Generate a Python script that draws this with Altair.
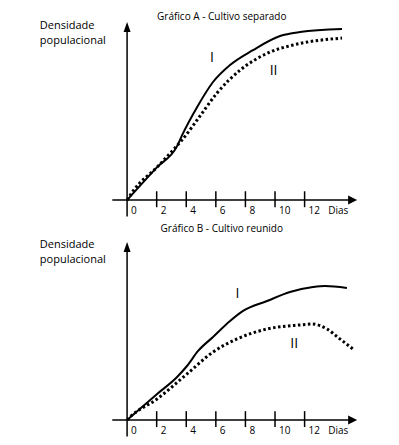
import altair as alt
import pandas as pd

# ---- data (days, relative population density) ----
a1_day = [0, 2.03, 3.38, 3.72, 4.73, 5.81, 6.96, 8.51, 10.34, 11.69, 14.53]
a1_den = [0, 18.6, 30.5, 36.7, 52.5, 66.7, 76.3, 84.7, 92.7, 94.9, 96.6]
a2_day = [0, 0.41, 2.03, 3.38, 3.7, 4.93, 6.08, 7.64, 9.66, 11.22, 14.53]
a2_den = [0, 5.2, 18.6, 30.8, 33.8, 47.5, 60.5, 73.4, 83.6, 87.6, 91.5]
b1_day = [0, 2.03, 3.38, 4.05, 4.80, 5.81, 6.96, 7.84, 9.46, 11.01, 12.57, 13.38, 14.86]
b1_den = [0, 14.7, 24.3, 30.5, 39.0, 46.9, 55.9, 61.6, 67.2, 72.3, 75.1, 75.7, 74.6]
b2_day = [0, 0.2, 2.03, 4.05, 5.81, 7.43, 9.46, 11.69, 12.5, 13.51, 14.39, 15.27]
b2_den = [0, 1.7, 11.9, 26.0, 38.4, 45.8, 51.4, 53.7, 54.2, 51.4, 45.8, 40.1]

tick_days = [2, 4, 6, 8, 10, 12]
label_days = [0, 2, 4, 6, 8, 10, 12]
label_text = ["0", "2", "4", "6", "8", "10", "12"]

titles = ["Gráfico A - Cultivo separado", "Gráfico B - Cultivo reunido"]
ylabel = "Densidade\npopulacional"
unit_label = "Dias"

FONT = "Open Sans"
XDOM = [-8.05, 17.3]
W = 375


def panel(d1, v1, d2, v2, lab_pos, title, title_y, ydom, height, ylab_y):
    xs = alt.Scale(domain=XDOM, nice=False, zero=False)
    ys = alt.Scale(domain=ydom, nice=False, zero=False)
    X = lambda f: alt.X(f, type="quantitative", scale=xs, axis=None)
    Y = lambda f: alt.Y(f, type="quantitative", scale=ys, axis=None)

    curves = pd.DataFrame(
        {"day": d1 + d2, "den": v1 + v2,
         "serie": ["I"] * len(d1) + ["II"] * len(d2),
         "o": list(range(len(d1))) + list(range(len(d2)))}
    )
    solid = alt.Chart(curves[curves.serie == "I"]).mark_line(
        color="black", strokeWidth=2, interpolate="monotone"
    ).encode(x=X("day"), y=Y("den"), order="o:Q")
    dotted = alt.Chart(curves[curves.serie == "II"]).mark_line(
        color="black", strokeWidth=3, strokeDash=[2.5, 2.5], strokeCap="butt",
        interpolate="monotone"
    ).encode(x=X("day"), y=Y("den"), order="o:Q")

    xaxis = alt.Chart(pd.DataFrame({"x": [-1.0], "x2": [15.3], "y": [0.0]})).mark_rule(
        color="black", strokeWidth=1.5
    ).encode(x=X("x"), x2="x2", y=Y("y"))
    yaxis = alt.Chart(pd.DataFrame({"x": [0.0], "y": [-9.3], "y2": [99.0]})).mark_rule(
        color="black", strokeWidth=1.5
    ).encode(x=X("x"), y=Y("y"), y2="y2")
    arr = pd.DataFrame({"x": [15.55, 0.0], "y": [0.0, 100.6],
                        "s": ["M0,0 L-1.8,-0.9 L-1.8,0.9 Z", "M0,0 L0.7,2 L-0.7,2 Z"]})
    arrows = alt.Chart(arr).mark_point(
        filled=True, color="black", size=100, opacity=1, strokeWidth=0
    ).encode(x=X("x"), y=Y("y"), shape=alt.Shape("s:N", scale=None))

    ticks = alt.Chart(pd.DataFrame({"x": tick_days, "y": [-4.0] * 6, "y2": [5.0] * 6})).mark_rule(
        color="black", strokeWidth=1.5
    ).encode(x=X("x"), y=Y("y"), y2="y2")
    labs = alt.Chart(pd.DataFrame({"x": label_days, "t": label_text, "y": [0.0] * 7})).mark_text(
        align="left", baseline="middle", dx=4, dy=11, font=FONT, fontSize=10, fill="black"
    ).encode(x=X("x"), y=Y("y"), text="t:N")
    dias = alt.Chart(pd.DataFrame({"x": [13.6], "t": [unit_label], "y": [0.0]})).mark_text(
        align="left", baseline="middle", dy=11, font=FONT, fontSize=10, fill="black"
    ).encode(x=X("x"), y=Y("y"), text="t:N")

    roman = alt.Chart(pd.DataFrame({"x": [lab_pos[0], lab_pos[2]], "y": [lab_pos[1], lab_pos[3]],
                                    "t": ["I", "II"]})).mark_text(
        align="center", baseline="middle", font=FONT, fontSize=14, fill="black"
    ).encode(x=X("x"), y=Y("y"), text="t:N")

    ttl = alt.Chart(pd.DataFrame({"x": [6.4], "y": [title_y], "t": [title]})).mark_text(
        align="center", baseline="middle", font=FONT, fontSize=10, fill="black"
    ).encode(x=X("x"), y=Y("y"), text="t:N")
    yl = alt.Chart(pd.DataFrame({"x": [-5.9], "y": [ylab_y], "t": [ylabel]})).mark_text(
        align="left", baseline="middle", font=FONT, fontSize=11, fill="black",
        lineBreak="\n", lineHeight=15.5
    ).encode(x=X("x"), y=Y("y"), text="t:N")

    return alt.layer(xaxis, yaxis, arrows, ticks, labs, dias, solid, dotted, roman, ttl, yl).properties(
        width=W, height=height
    )


pA = panel(a1_day, a1_den, a2_day, a2_den, [5.74, 80.2, 9.9, 73.2], titles[0], 103.5,
           [-10.1, 108.5], 210, 98.5)
pB = panel(b1_day, b1_den, b2_day, b2_den, [7.46, 70.9, 11.3, 42.7], titles[1], 107.9,
           [-9.6, 114.1], 219, 99.0)

chart = alt.vconcat(pA, pB, spacing=0).properties(padding=0).configure_view(stroke=None)
chart.save("out.html", embed_options={"renderer": "svg", "actions": False})
